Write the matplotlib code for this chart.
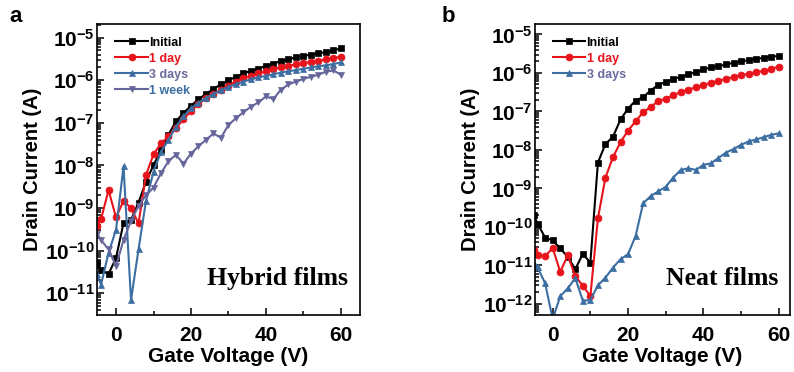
import numpy as np
import matplotlib
matplotlib.use("Agg")
import matplotlib.pyplot as plt
from matplotlib.ticker import FixedLocator, FuncFormatter, MultipleLocator, LogLocator, NullFormatter

plt.rcParams['font.family'] = ['Liberation Sans', 'DejaVu Sans']
plt.rcParams['font.weight'] = 'bold'
plt.rcParams['mathtext.fontset'] = 'custom'
plt.rcParams['mathtext.bf'] = 'Liberation Sans:bold'
plt.rcParams['mathtext.rm'] = 'Liberation Sans:bold'

# Gate voltage (V)
vg = [-5, -4, -2, 0, 2, 4, 6, 8, 10, 12, 14, 16, 18, 20, 22, 24, 26, 28, 30,
      32, 34, 36, 38, 40, 42, 44, 46, 48, 50, 52, 54, 56, 58, 60]

# Panel a: hybrid films, log10 of drain current (A)
a_initial = [-10.30, -10.45, -10.55, -10.17, -9.35, -9.28, -8.87, -8.38, -7.99, -7.64,
             -7.28, -6.96, -6.77, -6.60, -6.45, -6.32, -6.21, -6.09, -6.00, -5.92,
             -5.84, -5.78, -5.73, -5.66, -5.61, -5.55, -5.51, -5.46, -5.43, -5.40,
             -5.37, -5.34, -5.30, -5.25]
a_1day = [-9.43, -9.26, -8.58, -9.22, -8.83, -9.00, -9.36, -8.22, -7.74, -7.48,
          -7.32, -7.12, -6.92, -6.72, -6.56, -6.42, -6.32, -6.23, -6.13, -6.03,
          -5.95, -5.90, -5.84, -5.79, -5.74, -5.70, -5.66, -5.63, -5.60, -5.57,
          -5.54, -5.51, -5.48, -5.45]
a_3days = [-10.55, -10.80, -10.05, -9.51, -8.02, -11.16, -9.97, -8.83, -8.15, -7.68,
           -7.40, -7.09, -6.85, -6.66, -6.53, -6.42, -6.32, -6.24, -6.16, -6.09,
           -6.03, -5.98, -5.93, -5.90, -5.86, -5.82, -5.79, -5.76, -5.73, -5.70,
           -5.67, -5.65, -5.62, -5.58]
a_1week = [-9.60, -9.75, -9.97, -10.36, -9.75, -9.30, -8.95, -8.70, -8.52, -8.18,
           -7.90, -7.75, -7.96, -7.72, -7.55, -7.40, -7.25, -7.35, -7.05, -6.89,
           -6.75, -6.62, -6.52, -6.38, -6.44, -6.22, -6.10, -6.03, -5.97, -5.92,
           -5.87, -5.80, -5.77, -5.87]

# Panel b: neat films, log10 of drain current (A)
b_initial = [-9.70, -9.92, -10.28, -10.35, -10.56, -10.78, -11.10, -10.70, -10.93, -8.33,
             -7.85, -7.66, -7.21, -6.93, -6.72, -6.63, -6.46, -6.31, -6.24, -6.15,
             -6.11, -6.04, -5.98, -5.91, -5.86, -5.83, -5.78, -5.74, -5.70, -5.67,
             -5.64, -5.61, -5.58, -5.56]
b_1day = [-10.60, -10.74, -10.76, -10.55, -11.17, -10.74, -11.28, -11.53, -11.80, -9.78,
          -8.72, -8.19, -7.80, -7.50, -7.26, -7.02, -6.89, -6.73, -6.67, -6.58,
          -6.50, -6.44, -6.37, -6.32, -6.25, -6.21, -6.15, -6.11, -6.06, -6.02,
          -5.98, -5.95, -5.89, -5.84]
b_3days = [-10.95, -11.05, -11.47, -12.40, -11.80, -11.60, -11.33, -11.92, -11.90, -11.52,
           -11.32, -11.06, -10.84, -10.71, -10.24, -9.39, -9.20, -9.08, -8.96, -8.72,
           -8.52, -8.48, -8.52, -8.39, -8.35, -8.21, -8.07, -7.98, -7.87, -7.78,
           -7.73, -7.67, -7.61, -7.57]

labels_a = ['Initial', '1 day', '3 days', '1 week']
labels_b = ['Initial', '1 day', '3 days']

BLACK = '#000000'
RED = '#e8141c'
BLUE = '#3c6ea2'
PURPLE = '#66669c'
styles = [(BLACK, 's'), (RED, 'o'), (BLUE, '^'), (PURPLE, 'v')]
text_colors_a = [BLACK, RED, '#6a6a9e', BLUE]
text_colors_b = [BLACK, RED, '#6a6a9e']

fig = plt.figure(figsize=(7.94, 3.72), dpi=100)
ax_a = fig.add_axes([0.1222, 0.1532, 0.3312, 0.7823])
ax_b = fig.add_axes([0.6738, 0.1532, 0.3212, 0.7823])


def sci(v, pos):
    return r'$\mathbf{10^{%d}}$' % int(round(np.log10(v)))


def draw(ax, series, labels, tcolors, ylim, xlim, note):
    for s, lab, (c, m) in zip(series, labels, styles):
        ax.plot(vg, np.power(10.0, s), color=c, marker=m, ms=5, lw=1.5,
                label=lab, markeredgewidth=0.5)
    ax.set_yscale('log')
    ax.set_ylim(10 ** ylim[0], 10 ** ylim[1])
    ax.set_xlim(*xlim)
    lo = int(np.ceil(ylim[0]))
    hi = int(np.floor(ylim[1]))
    ax.yaxis.set_major_locator(FixedLocator([10.0 ** k for k in range(lo, hi + 1)]))
    ax.yaxis.set_major_formatter(FuncFormatter(sci))
    ax.yaxis.set_minor_locator(LogLocator(base=10, subs=np.arange(2, 10), numticks=50))
    ax.yaxis.set_minor_formatter(NullFormatter())
    ax.xaxis.set_major_locator(FixedLocator([0, 20, 40, 60]))
    ax.xaxis.set_minor_locator(MultipleLocator(10))
    ax.tick_params(which='both', direction='in', top=False, right=False, width=1.1)
    ax.tick_params(which='major', length=5, labelsize=15)
    ax.tick_params(axis='y', which='major', pad=2)
    ax.tick_params(axis='x', which='major', pad=8)
    ax.tick_params(which='minor', length=3)
    for sp in ax.spines.values():
        sp.set_linewidth(1.2)
    ax.set_xlabel('Gate Voltage (V)', fontsize=15, fontweight='bold', labelpad=1)
    ax.set_ylabel('Drain Current (A)', fontsize=14.5, fontweight='bold', labelpad=2)
    leg = ax.legend(loc='upper left', bbox_to_anchor=(0.06, 0.965), frameon=False,
                    handlelength=2.6, handletextpad=0.1,
                    labelspacing=0.32, borderaxespad=0, borderpad=0.2,
                    prop={'weight': 'bold', 'size': 9})
    for t, c in zip(leg.get_texts(), tcolors):
        t.set_color(c)
    ax.text(0.955, 0.127, note, transform=ax.transAxes, ha='right', va='center',
            fontsize=18.5, fontweight='bold', family=['Liberation Serif', 'DejaVu Serif'])


draw(ax_a, [a_initial, a_1day, a_3days, a_1week], labels_a, text_colors_a,
     (-11.51, -4.68), (-5.07, 65.1), 'Hybrid films')
draw(ax_b, [b_initial, b_1day, b_3days], labels_b, text_colors_b,
     (-12.29, -4.73), (-4.7, 63.0), 'Neat films')

fig.text(0.012, 0.955, 'a', fontsize=16, fontweight='bold', va='center')
fig.text(0.556, 0.955, 'b', fontsize=16, fontweight='bold', va='center')

fig.savefig('out.png', dpi=100)
